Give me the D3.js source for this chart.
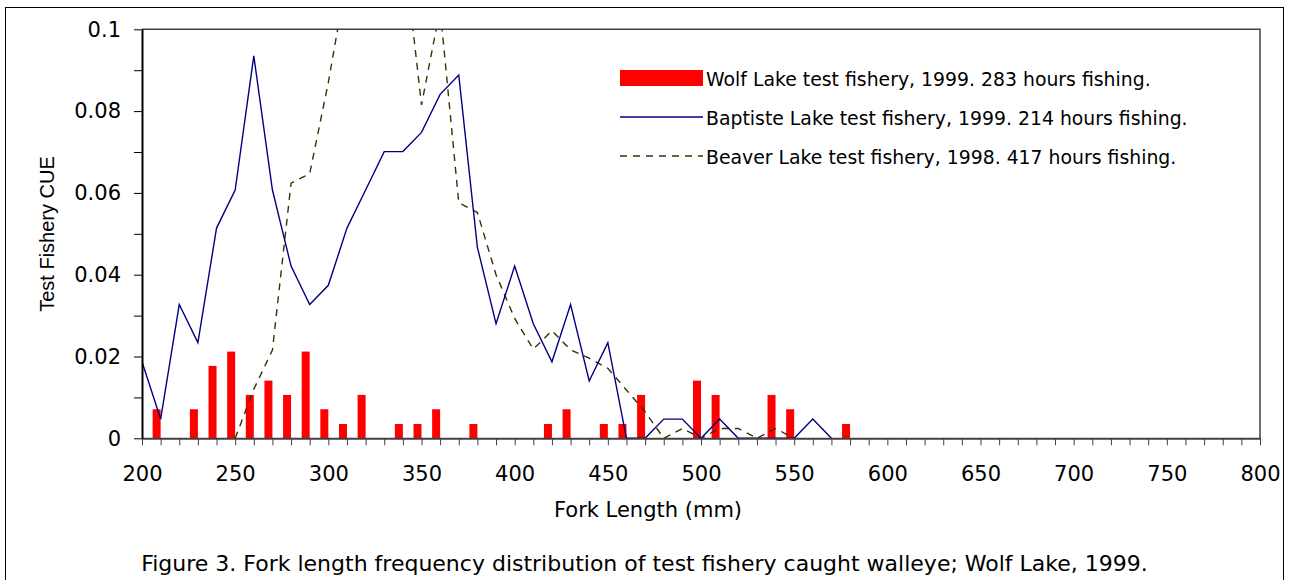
<!DOCTYPE html>
<html>
<head>
<meta charset="utf-8">
<script src="https://cdn.jsdelivr.net/npm/d3@7"></script>
<style>
  body { margin: 0; background: #fff; }
  svg { display: block; }
</style>
</head>
<body>
<svg id="chart" width="1289" height="580"></svg>
<script>
// fork length bins (mm) and test fishery CUE
const wolfLen = [210, 230, 240, 250, 260, 270, 280, 290, 300, 310, 320, 340, 350, 360, 380, 420, 430, 450, 460, 470, 500, 510, 540, 550, 580];
const wolfCue = [0.0071, 0.0071, 0.0177, 0.0212, 0.0106, 0.0141, 0.0106, 0.0212, 0.0071, 0.0035, 0.0106, 0.0035, 0.0035, 0.0071, 0.0035, 0.0035, 0.0071, 0.0035, 0.0035, 0.0106, 0.0141, 0.0106, 0.0106, 0.0071, 0.0035];

const baptisteLen = [200, 210, 220, 230, 240, 250, 260, 270, 280, 290, 300, 310, 320, 330, 340, 350, 360, 370, 380, 390, 400, 410, 420, 430, 440, 450, 460, 470, 480, 490, 500, 510, 520, 530, 540, 550, 560, 570];
const baptisteCue = [0.0187, 0.0047, 0.0327, 0.0234, 0.0514, 0.0607, 0.0935, 0.0607, 0.0421, 0.0327, 0.0374, 0.0514, 0.0607, 0.0701, 0.0701, 0.0748, 0.0841, 0.0888, 0.0467, 0.0280, 0.0421, 0.0280, 0.0187, 0.0327, 0.0140, 0.0234, 0, 0, 0.0047, 0.0047, 0, 0.0047, 0, 0, 0, 0, 0.0047, 0];

const beaverLen = [250, 260, 270, 280, 290, 300, 310, 320, 330, 340, 350, 360, 370, 380, 390, 400, 410, 420, 430, 440, 450, 460, 470, 480, 490, 500, 510, 520, 530, 540, 550];
const beaverCue = [0, 0.0120, 0.0216, 0.0624, 0.0647, 0.0870, 0.113, 0.125, 0.130, 0.122, 0.0815, 0.105, 0.0576, 0.0552, 0.0400, 0.0293, 0.0218, 0.0263, 0.0216, 0.0196, 0.0171, 0.0118, 0.0065, 0, 0.0024, 0, 0.0024, 0.0024, 0, 0.0024, 0];

const legendLabels = [
  "Wolf Lake test fishery, 1999. 283 hours fishing.",
  "Baptiste Lake test fishery, 1999. 214 hours fishing.",
  "Beaver Lake test fishery, 1998. 417 hours fishing."
];
const xTicks = d3.range(200, 801, 10);
const yTicks = [0, 0.01, 0.02, 0.03, 0.04, 0.05, 0.06, 0.07, 0.08, 0.09, 0.1];
const yTickLabels = ["0", "", "0.02", "", "0.04", "", "0.06", "", "0.08", "", "0.1"];

const svg = d3.select("#chart");
const L = 142, R = 1260, T = 29.3, B = 438.3;

const x = d3.scaleLinear().domain([200, 800]).range([L, R]);
const y = d3.scaleLinear().domain([0, 0.1]).range([B, T]);

// outer figure border (runs off the bottom)
svg.append("rect")
  .attr("x", 5.5).attr("y", 7.5).attr("width", 1278).attr("height", 620)
  .attr("fill", "none").attr("stroke", "#000").attr("stroke-width", 1);

svg.append("defs").append("clipPath").attr("id", "plotclip")
  .append("rect").attr("x", L).attr("y", T).attr("width", R - L).attr("height", B - T);

// top and right frame of plot area
svg.append("path")
  .attr("d", `M${L},${T}H${R}V${B}`)
  .attr("fill", "none").attr("stroke", "#404040").attr("stroke-width", 1.5);

// bars: right edge sits on the bin value
const barW = 8;
svg.append("g").selectAll("rect")
  .data(wolfLen.map((d, i) => ({ len: d, v: wolfCue[i] })))
  .join("rect")
  .attr("x", d => x(d.len) - barW)
  .attr("y", d => y(d.v))
  .attr("width", barW)
  .attr("height", d => y(0) - y(d.v))
  .attr("fill", "#ff0000");

const line = d3.line().x(d => x(d[0])).y(d => y(d[1]));
const lines = svg.append("g").attr("clip-path", "url(#plotclip)");

lines.append("path")
  .datum(beaverLen.map((d, i) => [d, beaverCue[i]]))
  .attr("d", line)
  .attr("fill", "none").attr("stroke", "#333300").attr("stroke-width", 1.4)
  .attr("stroke-dasharray", "7,6");

lines.append("path")
  .datum(baptisteLen.map((d, i) => [d, baptisteCue[i]]))
  .attr("d", line)
  .attr("fill", "none").attr("stroke", "#000080").attr("stroke-width", 1.4);

// axes
const xAxis = svg.append("g").attr("transform", `translate(0,${B})`)
  .call(d3.axisBottom(x).tickValues(xTicks).tickSize(7).tickSizeOuter(0).tickPadding(21)
    .tickFormat(d => d % 50 === 0 ? d : ""));
xAxis.select(".domain").attr("stroke", "#404040").attr("stroke-width", 2);
xAxis.selectAll(".tick line").attr("stroke", "#404040");

const yAxis = svg.append("g").attr("transform", `translate(${L},0)`)
  .call(d3.axisLeft(y).tickValues(yTicks).tickSize(8).tickSizeOuter(0).tickPadding(13)
    .tickFormat((d, i) => yTickLabels[i]));
yAxis.select(".domain").attr("stroke", "#000").attr("stroke-width", 2);

svg.selectAll(".tick text")
  .attr("font-family", "'DejaVu Sans', Verdana, sans-serif")
  .attr("font-size", 21).attr("fill", "#000");

// axis titles
svg.append("text")
  .attr("x", 648).attr("y", 517)
  .attr("text-anchor", "middle")
  .attr("font-family", "'DejaVu Sans', Verdana, sans-serif").attr("font-size", 21)
  .text("Fork Length (mm)");

svg.append("text")
  .attr("transform", "translate(54,234) rotate(-90)")
  .attr("text-anchor", "middle")
  .attr("font-family", "'Liberation Sans', Arial, sans-serif").attr("font-size", 20)
  .text("Test Fishery CUE");

svg.append("text")
  .attr("x", 644.5).attr("y", 571)
  .attr("text-anchor", "middle")
  .attr("font-family", "'DejaVu Sans', Verdana, sans-serif").attr("font-size", 22)
  .text("Figure 3. Fork length frequency distribution of test fishery caught walleye; Wolf Lake, 1999.");

// legend
const lg = svg.append("g");
const rowY = [78, 117, 156];
lg.append("rect").attr("x", 620).attr("y", rowY[0] - 8).attr("width", 83).attr("height", 16).attr("fill", "#ff0000");
lg.append("line").attr("x1", 620).attr("x2", 703).attr("y1", rowY[1]).attr("y2", rowY[1])
  .attr("stroke", "#000080").attr("stroke-width", 1.4);
lg.append("line").attr("x1", 620).attr("x2", 703).attr("y1", rowY[2]).attr("y2", rowY[2])
  .attr("stroke", "#333300").attr("stroke-width", 1.4).attr("stroke-dasharray", "7,6");

// legend font is narrower than the rest (Tahoma-like): squeeze horizontally
const labs = lg.selectAll("text.lab").data(legendLabels).join("text")
  .attr("class", "lab")
  .attr("font-family", "'DejaVu Sans', Tahoma, sans-serif").attr("font-size", 20)
  .text(d => d);
const baptisteW = labs.nodes()[1].getComputedTextLength();
const sx = 482 / baptisteW;
labs.attr("transform", (d, i) => `translate(706,${rowY[i] + 7.5}) scale(${sx},1)`);
</script>
</body>
</html>
